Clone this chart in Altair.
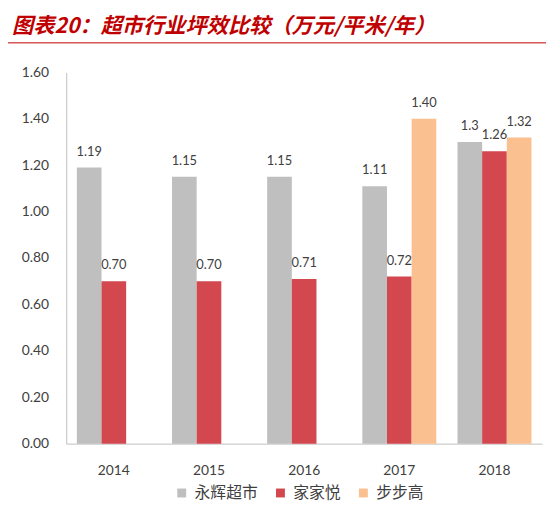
import altair as alt
import pandas as pd

years = ["2014", "2015", "2016", "2017", "2018"]
series = ["永辉超市", "家家悦", "步步高"]
yonghui = [1.19, 1.15, 1.15, 1.11, 1.3]
yonghui_labels = ["1.19", "1.15", "1.15", "1.11", "1.3"]
jiajiayue = [0.70, 0.70, 0.71, 0.72, 1.26]
jiajiayue_labels = ["0.70", "0.70", "0.71", "0.72", "1.26"]
bubugao = [None, None, None, 1.40, 1.32]
bubugao_labels = [None, None, None, "1.40", "1.32"]
y_ticks = [0.0, 0.2, 0.4, 0.6, 0.8, 1.0, 1.2, 1.4, 1.6]
colors = ["#BFBFBF", "#D3474E", "#FAC090"]
title_text = "图表20：超市行业坪效比较（万元/平米/年）"

rows = []
for s, vals, labs in zip(series, [yonghui, jiajiayue, bubugao],
                         [yonghui_labels, jiajiayue_labels, bubugao_labels]):
    for yr, v, lab in zip(years, vals, labs):
        if v is None:
            continue
        rows.append({"year": yr, "series": s, "value": v, "label": lab})
df = pd.DataFrame(rows)

NUM_FONT = "Lato"
CJK_FONT = "Noto Sans CJK SC"
TXT = "#404040"

x_enc = alt.X("year:N",
              scale=alt.Scale(domain=years, paddingInner=0.223, paddingOuter=0.1115),
              axis=alt.Axis(title=None, labelAngle=0, labelFontSize=14, labelFont=NUM_FONT,
                            labelColor=TXT, labelPadding=20, ticks=False,
                            domainColor="#BFBFBF", grid=False))
xoff = alt.XOffset("series:N", scale=alt.Scale(domain=series, paddingInner=0, paddingOuter=0))
y_enc = alt.Y("value:Q",
              scale=alt.Scale(domain=[0, 1.6], nice=False),
              axis=alt.Axis(title=None, values=y_ticks, format=".2f", grid=False, ticks=False,
                            domainColor="#BFBFBF", labelFontSize=14, labelFont=NUM_FONT,
                            labelColor=TXT, labelPadding=18))

base = alt.Chart(df)

bars = base.mark_bar().encode(
    x=x_enc, xOffset=xoff, y=y_enc,
    color=alt.Color("series:N",
                    scale=alt.Scale(domain=series, range=colors),
                    legend=alt.Legend(orient="none", legendX=109, legendY=418,
                                      direction="horizontal", title=None,
                                      symbolType="square", symbolSize=81,
                                      symbolStrokeWidth=0, labelFontSize=16,
                                      labelFont=CJK_FONT, labelColor=TXT,
                                      columnPadding=14, labelOffset=5, padding=0)),
)

labels = base.mark_text(fontSize=13, font=NUM_FONT, color=TXT, baseline="middle", dy=-16).encode(
    x=x_enc, xOffset=xoff, y=y_enc, text="label:N"
)

title = alt.Chart(pd.DataFrame({"t": [title_text]})).mark_text(
    align="left", baseline="middle", fontSize=21.5, font=CJK_FONT,
    fontWeight="bold", fontStyle="italic", color="#C00000"
).encode(text="t:N", x=alt.value(-55), y=alt.value(-46))

rule = alt.Chart(pd.DataFrame({"a": [0]})).mark_rule(color="#C00000", strokeWidth=1).encode(
    x=alt.value(-59), x2=alt.value(487), y=alt.value(-30)
)

chart = alt.layer(bars, labels, title, rule).properties(
    width=482, height=376,
    padding={"left": 59, "top": 62, "right": 4, "bottom": 70},
    autosize=alt.AutoSizeParams(type="none"),
    background="white",
).configure_view(stroke=None)

chart.save("out.html", embed_options={"renderer": "svg", "actions": False})
